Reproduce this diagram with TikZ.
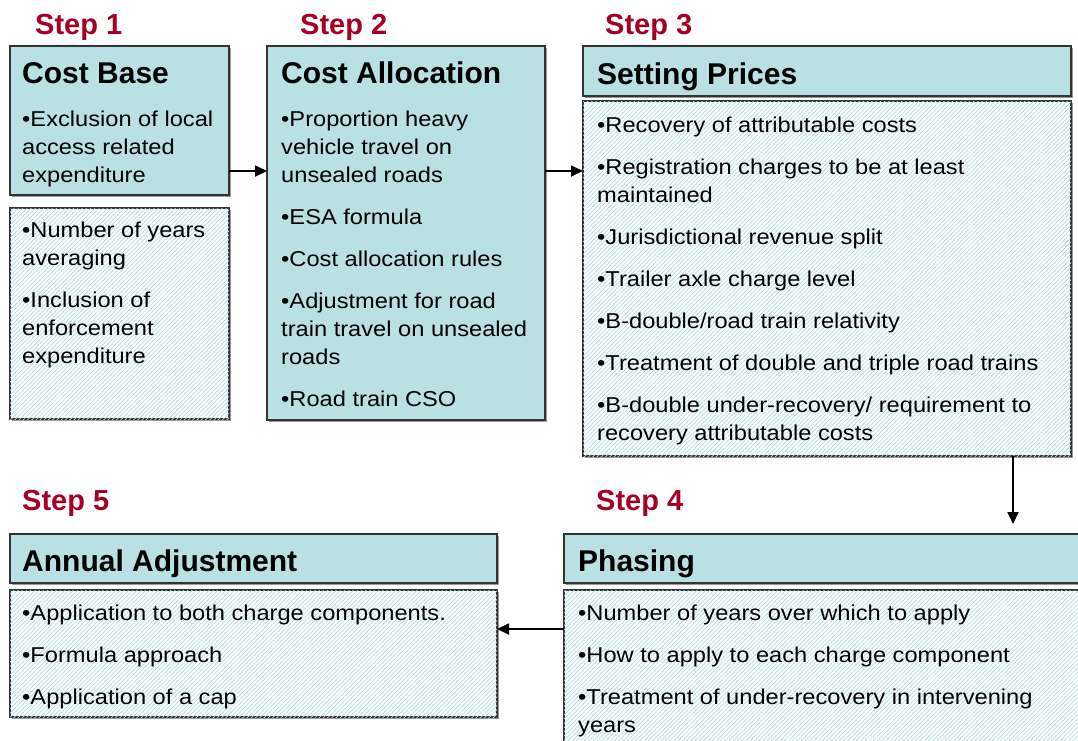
\documentclass[tikz,border=0pt]{standalone}
\usepackage{fontspec}
\setmainfont{Liberation Sans}
\newfontfamily\itemfont{Liberation Sans}[FakeStretch=1.1]
\usetikzlibrary{arrows.meta,patterns.meta,shadows}
\definecolor{boxfill}{HTML}{B9E0E3}
\definecolor{hatchcol}{HTML}{B0DDE0}
\definecolor{stepred}{HTML}{A50021}
\tikzset{
	boxbase/.style={draw=black!80, line width=1.2pt, anchor=north west, inner sep=0pt, outer sep=0pt,
		drop shadow={shadow xshift=1.5pt, shadow yshift=-1.5pt, fill=black!40, opacity=1}},
	solidbox/.style={boxbase, fill=boxfill},
	hatchbox/.style={boxbase, fill=white, postaction={pattern={Lines[angle=45,distance=3pt,line width=0.7pt]}, pattern color=hatchcol}},
	steplbl/.style={font=\bfseries\fontsize{29}{34}\selectfont, text=stepred, anchor=base west, inner sep=0pt},
	ttl/.style={font=\bfseries\fontsize{30}{34}\selectfont, anchor=base west, inner sep=0pt},
	body/.style={font=\itemfont\fontsize{21.5}{28}\selectfont, align=left, anchor=north west, inner sep=0pt},
	flow/.style={-{Triangle[length=12pt,width=11pt]}, line width=1.8pt}
}
\begin{document}
\begin{tikzpicture}[x=1pt,y=-1pt]
	\useasboundingbox (0,0) rectangle (1078,740);

	% boxes
	\node[solidbox, minimum width=219pt, minimum height=149pt] (cb) at (10,46) {};
	\node[hatchbox, minimum width=219pt, minimum height=211pt] (cbx) at (10,208) {};
	\node[solidbox, minimum width=278pt, minimum height=374pt] (ca) at (267,46) {};
	\node[solidbox, minimum width=488pt, minimum height=50pt] (sp) at (583,46) {};
	\node[hatchbox, minimum width=488pt, minimum height=355pt] (spb) at (583,101) {};
	\node[solidbox, minimum width=526pt, minimum height=49pt] (ph) at (564,534) {};
	\node[hatchbox, minimum width=526pt, minimum height=170pt] (phb) at (564,590) {};
	\node[solidbox, minimum width=487pt, minimum height=49pt] (aa) at (10,534) {};
	\node[hatchbox, minimum width=487pt, minimum height=127pt] (aab) at (10,590) {};

	% step labels
	\node[steplbl] (s1) at (35,34) {Step 1};
	\node[steplbl] (s2) at (300,34) {Step 2};
	\node[steplbl] (s3) at (605,34) {Step 3};
	\node[steplbl] (s4) at (596,510) {Step 4};
	\node[steplbl] (s5) at (22,510) {Step 5};

	% titles
	\node[ttl] (cbt) at (22,83) {Cost Base};
	\node[ttl] (cat) at (281,83) {Cost Allocation};
	\node[ttl] (spt) at (597,84) {Setting Prices};
	\node[ttl] (pht) at (578,571) {Phasing};
	\node[ttl] (aat) at (22,571) {Annual Adjustment};

	% item lists (top of first line)
	\node[body] (cbl) at (22,111) {•Exclusion of local\\access related\\expenditure};
	\node[body] (cbxl) at (22,222) {•Number of years\\averaging\\[14pt]•Inclusion of\\enforcement\\expenditure};
	\node[body] (cal) at (281,111) {•Proportion heavy\\vehicle travel on\\unsealed roads\\[14pt]•ESA formula\\[14pt]%
		•Cost allocation rules\\[14pt]•Adjustment for road\\train travel on unsealed\\roads\\[14pt]•Road train CSO};
	\node[body] (spl) at (597,117) {•Recovery of attributable costs\\[14pt]•Registration charges to be at least\\maintained\\[14pt]%
		•Jurisdictional revenue split\\[14pt]•Trailer axle charge level\\[14pt]•B-double/road train relativity\\[14pt]%
		•Treatment of double and triple road trains\\[14pt]•B-double under-recovery/ requirement to\\recovery attributable costs};
	\node[body] (phl) at (578,605) {•Number of years over which to apply\\[14pt]•How to apply to each charge component\\[14pt]%
		•Treatment of under-recovery in intervening\\years};
	\node[body] (aal) at (22,605) {•Application to both charge components.\\[14pt]•Formula approach\\[14pt]•Application of a cap};

	% flow between steps
	\draw[flow] (cb.east |- 0,171) -- (ca.west |- 0,171);
	\draw[flow] (ca.east |- 0,171) -- (spb.west |- 0,171);
	\draw[flow, shorten >=10pt] (1013,0 |- spb.south) -- (1013,0 |- ph.north);
	\draw[flow] (phb.west |- 0,629) -- (aab.east |- 0,629);
\end{tikzpicture}
\end{document}
